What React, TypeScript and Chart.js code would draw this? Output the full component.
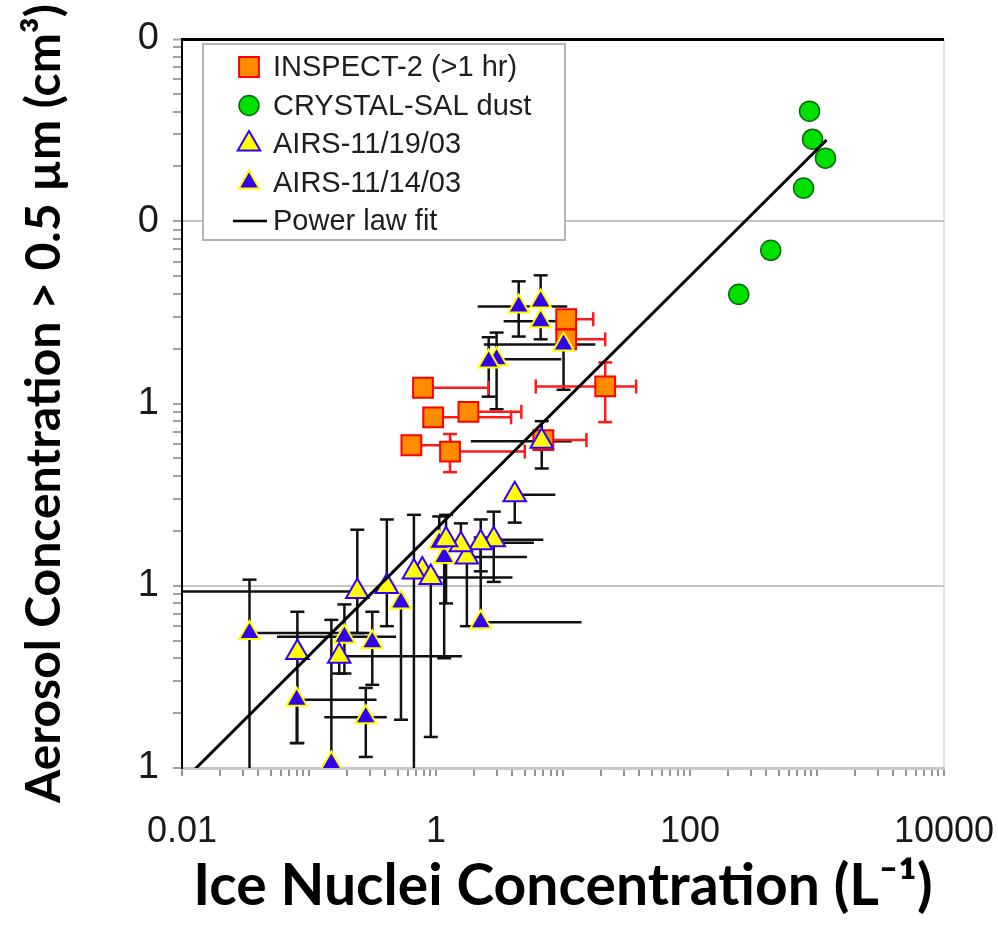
import React, { useEffect, useRef } from 'react';
import { Chart, registerables } from 'chart.js';

Chart.register(...registerables);

// ---------------- Data ----------------
// INSPECT-2 (>1 hr)
const inspectX = [0.79, 0.95, 1.8, 0.64, 1.29, 10.6, 10.6, 21.5, 7.0];
const inspectY = [1.22, 0.84, 0.9, 0.59, 0.545, 2.9, 2.25, 1.24, 0.63];
const inspectXLo = [null, null, null, null, null, null, null, 6.1, null];
const inspectXHi = [2.6, 3.9, 4.7, 1.3, 5.0, 17.3, 21.5, 37.7, 15.3];
const inspectYLo = [null, null, null, null, 0.42, null, null, 0.79, null];
const inspectYHi = [null, null, null, null, 0.68, null, null, 1.68, null];

// CRYSTAL-SAL dust
const crystalX = [873, 922, 1166, 784, 432, 242];
const crystalY = [40.2, 28.2, 22.2, 15.2, 6.93, 3.97];

// AIRS-11/19/03 (yellow triangles)
const airs19X = [4.17, 2.85, 2.25, 1.75, 1.57, 1.2, 0.78, 0.67, 0.91, 0.41, 0.24, 0.081, 0.173, 6.8];
const airs19Y = [0.316, 0.179, 0.172, 0.144, 0.168, 0.179, 0.122, 0.119, 0.111, 0.099, 0.093, 0.043, 0.041, 0.62];
const airs19XLo = [null, null, null, null, null, null, null, null, null, null, 0.001, null, null, 1.88];
const airs19XHi = [8.7, 7.0, 5.9, 5.2, null, null, null, null, 4.0, null, null, null, 1.6, 11.7];
const airs19YLo = [0.222, 0.105, 0.12, 0.06, null, 0.08, null, 0.005, 0.0148, 0.06, 0.055, 0.0137, 0.033, 0.44];
const airs19YHi = [null, 0.255, 0.231, null, 0.22, 0.245, null, 0.245, null, 0.231, 0.203, 0.072, null, 0.8];

// AIRS-11/14/03 (blue triangles)
const airs14X = [4.48, 6.67, 6.67, 10.1, 3.0, 2.6, 1.16, 1.06, 0.53, 2.25, 0.034, 0.19, 0.315, 0.08, 0.28, 0.15];
const airs14Y = [3.41, 3.63, 2.83, 2.11, 1.75, 1.7, 0.144, 0.172, 0.081, 0.063, 0.055, 0.0525, 0.049, 0.0237, 0.019, 0.0106];
const airs14XLo = [2.13, null, 3.41, 2.38, null, null, null, null, null, null, null, 0.056, null, null, 0.132, null];
const airs14XHi = [10.8, null, 9.2, 18, 9.7, null, null, null, null, 14, 0.3, 0.485, null, 0.34, 0.41, null];
const airs14YLo = [2.33, null, 2.25, 1.19, 0.93, 1.09, 0.04, null, 0.0184, null, 0.005, 0.033, 0.0286, 0.0137, 0.0115, null];
const airs14YHi = [4.68, 5.05, null, null, 2.45, 2.31, null, 0.24, null, 0.184, 0.108, 0.079, 0.072, null, 0.0275, 0.065];

// Power law fit (end points)
const fitX = [0.012, 1190];
const fitY = [0.0095, 27.9];

// Axis ticks
const xTickValues = [0.01, 1, 100, 10000];
const xTickLabels = ['0.01', '1', '100', '10000'];
const yTickValues = [0.01, 0.1, 1, 10, 100];
const yTickLabels = ['1', '1', '1', '0', '0'];

const legendLabels = ['INSPECT-2 (>1 hr)', 'CRYSTAL-SAL dust', 'AIRS-11/19/03', 'AIRS-11/14/03', 'Power law fit'];

// ---------------- Helpers ----------------
const isDecade = (v: number, e: number) => v != null && Math.abs(Math.log10(v) - e) < 1e-6;
const minorTicks = (lo: number, hi: number) => {
  const out: number[] = [];
  for (let e = lo; e <= hi; e++) {
    for (let m = 1; m <= 9; m++) {
      if (e === hi && m > 1) break;
      out.push(parseFloat((m * Math.pow(10, e)).toPrecision(6)));
    }
  }
  return out;
};
const labelFor = (v: number, vals: number[], labels: string[]) => {
  for (let i = 0; i < vals.length; i++) {
    if (Math.abs(Math.log10(v) - Math.log10(vals[i])) < 1e-6) return labels[i];
  }
  return '';
};
const pts = (xs: number[], ys: number[]) => xs.map((x, i) => ({ x, y: ys[i] }));

const errorBarPlugin = {
  id: 'errorBars',
  beforeDatasetsDraw(chart: any) {
    const { ctx, chartArea, scales } = chart;
    ctx.save();
    ctx.beginPath();
    ctx.rect(chartArea.left, chartArea.top, chartArea.right - chartArea.left, chartArea.bottom - chartArea.top);
    ctx.clip();
    const line = (x1: number, y1: number, x2: number, y2: number) => {
      ctx.beginPath();
      ctx.moveTo(x1, y1);
      ctx.lineTo(x2, y2);
      ctx.stroke();
    };
    chart.data.datasets.forEach((ds: any) => {
      const e = ds.errorBars;
      if (!e) return;
      ctx.strokeStyle = e.color;
      ctx.lineWidth = e.width;
      ds.data.forEach((p: any, i: number) => {
        const px = scales.x.getPixelForValue(p.x);
        const py = scales.y.getPixelForValue(p.y);
        if (e.xlo[i] != null) {
          const x = scales.x.getPixelForValue(e.xlo[i]);
          line(x, py, px, py);
          if (e.capX) line(x, py - e.cap, x, py + e.cap);
        }
        if (e.xhi[i] != null) {
          const x = scales.x.getPixelForValue(e.xhi[i]);
          line(px, py, x, py);
          if (e.capX) line(x, py - e.cap, x, py + e.cap);
        }
        if (e.ylo[i] != null) {
          const y = scales.y.getPixelForValue(e.ylo[i]);
          line(px, py, px, y);
          line(px - e.cap, y, px + e.cap, y);
        }
        if (e.yhi[i] != null) {
          const y = scales.y.getPixelForValue(e.yhi[i]);
          line(px, py, px, y);
          line(px - e.cap, y, px + e.cap, y);
        }
      });
    });
    ctx.restore();
  },
};

const drawMarker = (ctx: CanvasRenderingContext2D, style: string, x: number, y: number, r: number, fill: string, stroke: string, bw: number) => {
  ctx.save();
  ctx.fillStyle = fill;
  ctx.strokeStyle = stroke;
  ctx.lineWidth = bw;
  ctx.beginPath();
  if (style === 'rect') {
    const s = r * Math.SQRT1_2;
    ctx.rect(x - s, y - s, 2 * s, 2 * s);
  } else if (style === 'circle') {
    ctx.arc(x, y, r, 0, Math.PI * 2);
  } else if (style === 'triangle') {
    for (let k = 0; k < 3; k++) {
      const a = (k * 2 * Math.PI) / 3;
      const xx = x + Math.sin(a) * r;
      const yy = y - Math.cos(a) * r;
      if (k === 0) ctx.moveTo(xx, yy);
      else ctx.lineTo(xx, yy);
    }
    ctx.closePath();
  }
  ctx.fill();
  ctx.stroke();
  ctx.restore();
};

const legendPlugin = {
  id: 'boxLegend',
  afterDraw(chart: any) {
    const { ctx, chartArea } = chart;
    const bx = chartArea.left + 21;
    const by = chartArea.top + 5;
    const bw = 362;
    const bh = 196;
    ctx.save();
    ctx.fillStyle = '#ffffff';
    ctx.fillRect(bx, by, bw, bh);
    ctx.strokeStyle = '#b4b4b4';
    ctx.lineWidth = 2;
    ctx.strokeRect(bx, by, bw, bh);
    const byLabel: any = {};
    chart.data.datasets.forEach((d: any) => (byLabel[d.label] = d));
    legendLabels.forEach((lab, i) => {
      const d = byLabel[lab];
      const cy = by + 23 + i * 38.5;
      const mx = bx + 46;
      if (d.type === 'line') {
        ctx.strokeStyle = d.borderColor;
        ctx.lineWidth = 2.5;
        ctx.beginPath();
        ctx.moveTo(mx - 16, cy);
        ctx.lineTo(mx + 18, cy);
        ctx.stroke();
      } else {
        drawMarker(ctx, d.pointStyle, mx, cy, d.pointRadius, d.backgroundColor, d.borderColor, d.borderWidth);
      }
      ctx.fillStyle = '#1e1e1e';
      ctx.font = '29px "Liberation Sans", Arial, sans-serif';
      ctx.textAlign = 'left';
      ctx.textBaseline = 'middle';
      ctx.fillText(lab, bx + 70, cy + 1);
    });
    ctx.restore();
  },
};

export default function App() {
  const ref = useRef<HTMLCanvasElement | null>(null);

  useEffect(() => {
    if (!ref.current) return;
    const datasets: any[] = [
      {
        type: 'line',
        label: 'Power law fit',
        data: pts(fitX, fitY),
        borderColor: '#000000',
        borderWidth: 3,
        pointRadius: 0,
        showLine: true,
        fill: false,
        order: 0,
      },
      {
        type: 'scatter',
        label: 'AIRS-11/19/03',
        data: pts(airs19X, airs19Y),
        pointStyle: 'triangle',
        pointRadius: 13,
        backgroundColor: '#ffff00',
        borderColor: '#3300ff',
        borderWidth: 2,
        order: 1,
        errorBars: { xlo: airs19XLo, xhi: airs19XHi, ylo: airs19YLo, yhi: airs19YHi, color: '#111111', width: 2.5, cap: 7, capX: false },
      },
      {
        type: 'scatter',
        label: 'AIRS-11/14/03',
        data: pts(airs14X, airs14Y),
        pointStyle: 'triangle',
        pointRadius: 12,
        backgroundColor: '#3300ee',
        borderColor: '#ffff00',
        borderWidth: 2,
        order: 2,
        errorBars: { xlo: airs14XLo, xhi: airs14XHi, ylo: airs14YLo, yhi: airs14YHi, color: '#111111', width: 2.5, cap: 7, capX: false },
      },
      {
        type: 'scatter',
        label: 'CRYSTAL-SAL dust',
        data: pts(crystalX, crystalY),
        pointStyle: 'circle',
        pointRadius: 10,
        backgroundColor: '#00e000',
        borderColor: '#0a6a0a',
        borderWidth: 1.5,
        order: 3,
      },
      {
        type: 'scatter',
        label: 'INSPECT-2 (>1 hr)',
        data: pts(inspectX, inspectY),
        pointStyle: 'rect',
        pointRadius: 14,
        backgroundColor: '#ff8c00',
        borderColor: '#ff0000',
        borderWidth: 2,
        order: 4,
        errorBars: { xlo: inspectXLo, xhi: inspectXHi, ylo: inspectYLo, yhi: inspectYHi, color: '#ff1a1a', width: 2.5, cap: 7, capX: true },
      },
    ];

    const chart = new Chart(ref.current, {
      type: 'scatter',
      data: { datasets },
      options: {
        responsive: false,
        maintainAspectRatio: false,
        animation: false,
        devicePixelRatio: 1,
        events: [],
        layout: { padding: { top: 39, right: 54, left: 0, bottom: 0 } },
        plugins: { legend: { display: false }, tooltip: { enabled: false } },
        scales: {
          x: {
            type: 'logarithmic',
            min: 0.01,
            max: 10000,
            afterBuildTicks: (s: any) => {
              s.ticks = minorTicks(-2, 4).map((v) => ({ value: v }));
            },
            afterFit: (s: any) => {
              s.height = 171;
              s.paddingLeft = 0;
              s.paddingRight = 0;
            },
            ticks: {
              autoSkip: false,
              maxRotation: 0,
              minRotation: 0,
              padding: 34,
              color: '#1a1a1a',
              font: { family: '"Liberation Sans", Arial, sans-serif', size: 36 },
              callback: (v: any) => labelFor(Number(v), xTickValues, xTickLabels),
            },
            grid: {
              color: (c: any) => (c.tick && isDecade(c.tick.value, 4) ? '#e2e2e2' : 'rgba(0,0,0,0)'),
              lineWidth: 2,
              tickColor: '#707070',
              tickLength: 8,
              tickWidth: 1.5,
            },
            border: { display: true, color: '#c8c8c8', width: 3 },
            title: {
              display: true,
              text: 'Ice Nuclei Concentration (L⁻¹)',
              color: '#000000',
              font: { family: 'Lato, "Open Sans", sans-serif', weight: 'bold', size: 57 },
              padding: { top: 0, bottom: 18 },
            },
          },
          y: {
            type: 'logarithmic',
            min: 0.01,
            max: 100,
            afterBuildTicks: (s: any) => {
              s.ticks = minorTicks(-2, 2).map((v) => ({ value: v }));
            },
            afterFit: (s: any) => {
              s.width = 182;
              s.paddingTop = 0;
              s.paddingBottom = 0;
            },
            ticks: {
              autoSkip: false,
              padding: 14,
              color: '#1a1a1a',
              font: { family: '"Liberation Sans", Arial, sans-serif', size: 38 },
              callback: (v: any) => labelFor(Number(v), yTickValues, yTickLabels),
            },
            grid: {
              color: (c: any) => {
                const v = c.tick && c.tick.value;
                if (isDecade(v, 2)) return '#000000';
                if (isDecade(v, 1) || isDecade(v, -1)) return '#c4c4c4';
                return 'rgba(0,0,0,0)';
              },
              lineWidth: (c: any) => (c.tick && isDecade(c.tick.value, 2) ? 3 : 2),
              tickColor: '#a0a0a0',
              tickLength: 9,
              tickWidth: 2,
            },
            border: { display: true, color: '#000000', width: 2 },
            title: {
              display: true,
              text: 'Aerosol Concentration > 0.5 µm (cm³)',
              color: '#000000',
              font: { family: 'Lato, "Open Sans", sans-serif', weight: 'bold', size: 48 },
              padding: { top: 16, bottom: 0 },
            },
          },
        },
      } as any,
      plugins: [errorBarPlugin, legendPlugin],
    } as any);

    return () => chart.destroy();
  }, []);

  return (
    <div style={{ position: 'absolute', left: 0, top: 0, width: 998, height: 939, background: '#ffffff' }}>
      <canvas ref={ref} width={998} height={939} style={{ display: 'block', width: 998, height: 939 }} />
    </div>
  );
}
